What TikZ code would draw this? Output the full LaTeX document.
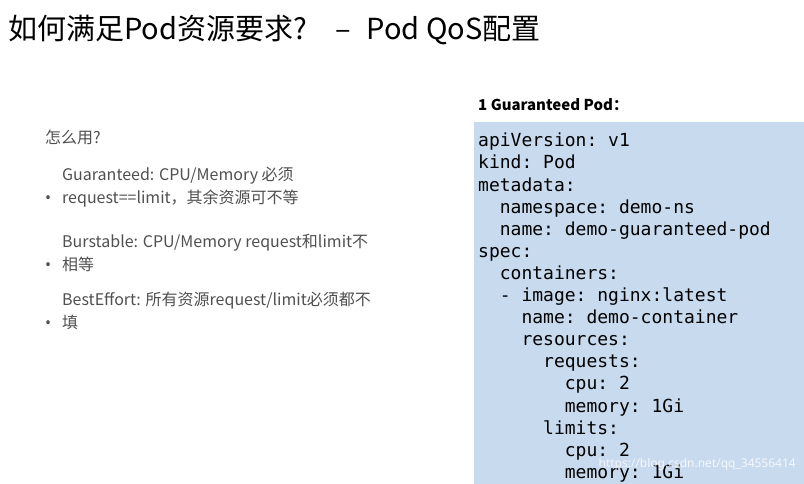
\documentclass[tikz,border=0pt]{standalone}
\usepackage{fontspec}
\setmainfont{Noto Sans}
\setmonofont{DejaVu Sans Mono}
\newfontfamily\cjk{Noto Sans CJK SC}
\usetikzlibrary{positioning}
\definecolor{codebg}{RGB}{200,218,238}
\definecolor{bodygray}{RGB}{80,80,80}
\tikzset{
  item/.style={anchor=north west, font=\cjk\fontsize{16}{23}\selectfont, text=bodygray, inner sep=0pt, align=left},
  dot/.style={anchor=base west, font=\fontsize{16}{23}\selectfont, text=bodygray, inner sep=0pt},
  code/.style={anchor=north west, font=\ttfamily\fontsize{18}{22.1}\selectfont, inner sep=0pt, align=left},
}
\begin{document}
\begin{tikzpicture}[x=1pt,y=-1pt]
\useasboundingbox (0,0) rectangle (804,484);
\fill[white] (0,0) rectangle (804,484);

% Title
\node[anchor=west, font=\cjk\fontsize{29}{32}\selectfont, inner sep=0pt] (title) at (8,30) {如何满足Pod资源要求?\hspace{28pt}–\hspace{16pt}Pod QoS配置};

% Left column
\node[item] (howto) at (45,130) {怎么用?};
\node[item] (guar) at (62,167) {Guaranteed:  CPU/Memory 必须\\request==limit，其余资源可不等};
\node[dot] (d1) at (guar.base west -| 45,0) {\textbullet};
\node[item] (burst) at (62,234) {Burstable:  CPU/Memory request和limit不\\相等};
\node[dot] (d2) at (burst.base west -| 45,0) {\textbullet};
\node[item] (best) at (62,292) {BestEffort:  所有资源request/limit必须都不\\填};
\node[dot] (d3) at (best.base west -| 45,0) {\textbullet};

% Right column
\node[anchor=west, font=\cjk\bfseries\fontsize{15}{18}\selectfont, inner sep=0pt] (head) at (478,105) {1 Guaranteed Pod：};
\fill[codebg] (474,122) rectangle (804,484);
\node[code] (yaml) at (478,133) {apiVersion: v1\\
kind: Pod\\
metadata:\\
\ \ namespace: demo-ns\\
\ \ name: demo-guaranteed-pod\\
spec:\\
\ \ containers:\\
\ \ - image: nginx:latest\\
\ \ \ \ name: demo-container\\
\ \ \ \ resources:\\
\ \ \ \ \ \ requests:\\
\ \ \ \ \ \ \ \ cpu: 2\\
\ \ \ \ \ \ \ \ memory: 1Gi\\
\ \ \ \ \ \ limits:\\
\ \ \ \ \ \ \ \ cpu: 2\\
\ \ \ \ \ \ \ \ memory: 1Gi};
\node[anchor=east, font=\fontsize{12}{14}\selectfont, text=white, opacity=0.8, inner sep=0pt] (mark) at (796,464) {https://blog.csdn.net/qq\_34556414};
\end{tikzpicture}
\end{document}
